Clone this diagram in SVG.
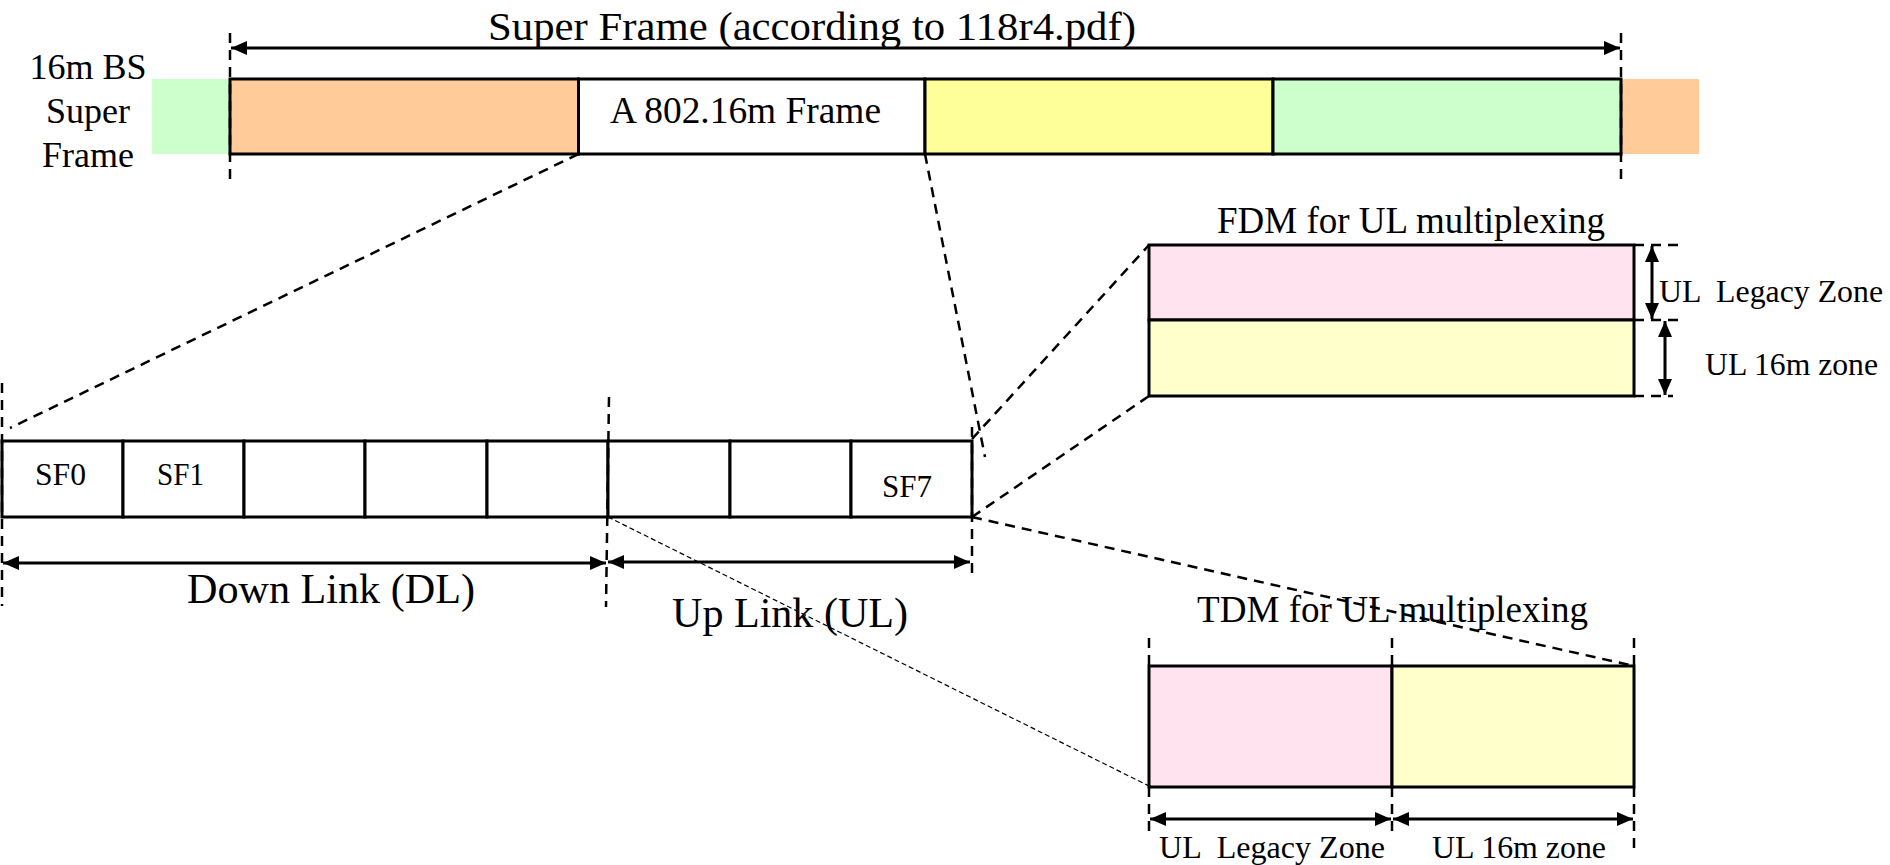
<svg xmlns="http://www.w3.org/2000/svg" width="1890" height="865" viewBox="0 0 1890 865">
<style>
text{font-family:"Liberation Serif","Times New Roman",serif;fill:#000}
.box{stroke:#000;stroke-width:3}
.dash{fill:none;stroke:#000;stroke-width:2.5;stroke-dasharray:10 7}
.thin{fill:none;stroke:#000;stroke-width:1.2;stroke-dasharray:5 3}
.arr{fill:none;stroke:#000;stroke-width:3;marker-start:url(#ah);marker-end:url(#ah)}
</style>
<defs>
<marker id="ah" viewBox="0 0 16 14" refX="16" refY="7" markerWidth="16" markerHeight="14" orient="auto-start-reverse" markerUnits="userSpaceOnUse"><path d="M0,0 L16,7 L0,14 z" fill="#000"/></marker>
</defs>
<rect width="1890" height="865" fill="#fff"/>

<g id="superframe-label">
<text x="88" y="79" font-size="36" text-anchor="middle">16m BS</text>
<text x="88" y="123" font-size="36" text-anchor="middle">Super</text>
<text x="88" y="167" font-size="36" text-anchor="middle">Frame</text>
</g>

<g id="superframe">
<rect x="152" y="79" width="78" height="75" fill="#CCFFCC"/>
<rect x="1621" y="79" width="78" height="75" fill="#FFCC99"/>
<rect class="box" x="230" y="79" width="348.5" height="75" fill="#FFCC99"/>
<rect class="box" x="578.5" y="79" width="346.5" height="75" fill="#FFFFFF"/>
<rect class="box" x="925" y="79" width="348" height="75" fill="#FFFF99"/>
<rect class="box" x="1273" y="79" width="348" height="75" fill="#CCFFCC"/>
<text x="610" y="123" font-size="37" textLength="271" lengthAdjust="spacingAndGlyphs">A 802.16m Frame</text>
</g>

<g id="superframe-title">
<text x="488" y="40" font-size="41" textLength="648" lengthAdjust="spacingAndGlyphs">Super Frame (according to 118r4.pdf)</text>
</g>

<g id="subframes">
<rect class="box" x="2" y="441" width="121" height="76" fill="#fff"/>
<rect class="box" x="123" y="441" width="121" height="76" fill="#fff"/>
<rect class="box" x="244" y="441" width="121" height="76" fill="#fff"/>
<rect class="box" x="365" y="441" width="122" height="76" fill="#fff"/>
<rect class="box" x="487" y="441" width="121" height="76" fill="#fff"/>
<rect class="box" x="608" y="441" width="122" height="76" fill="#fff"/>
<rect class="box" x="730" y="441" width="121" height="76" fill="#fff"/>
<rect class="box" x="851" y="441" width="121" height="76" fill="#fff"/>
<text x="35" y="485" font-size="32" textLength="51" lengthAdjust="spacingAndGlyphs">SF0</text>
<text x="157" y="485" font-size="32" textLength="47" lengthAdjust="spacingAndGlyphs">SF1</text>
<text x="882" y="497" font-size="32" textLength="50" lengthAdjust="spacingAndGlyphs">SF7</text>
</g>

<g id="dl-label">
<text x="187" y="603" font-size="42" textLength="288" lengthAdjust="spacingAndGlyphs">Down Link (DL)</text>
</g>
<g id="ul-label">
<text x="672" y="627" font-size="42" textLength="236" lengthAdjust="spacingAndGlyphs">Up Link (UL)</text>
</g>

<g id="fdm">
<text x="1217" y="233" font-size="37" textLength="388" lengthAdjust="spacingAndGlyphs">FDM for UL multiplexing</text>
<rect class="box" x="1149" y="245" width="485" height="75" fill="#FFE4F0"/>
<rect class="box" x="1149" y="320" width="485" height="76" fill="#FFFFCC"/>
<text x="1659" y="302" font-size="32" textLength="224" lengthAdjust="spacingAndGlyphs" xml:space="preserve">UL  Legacy Zone</text>
<text x="1705" y="375" font-size="32" textLength="173" lengthAdjust="spacingAndGlyphs">UL 16m zone</text>
</g>

<g id="tdm">
<text x="1197" y="622" font-size="37" textLength="391" lengthAdjust="spacingAndGlyphs">TDM for UL multiplexing</text>
<rect class="box" x="1149" y="666" width="243" height="121" fill="#FFE4F0"/>
<rect class="box" x="1392" y="666" width="242" height="121" fill="#FFFFCC"/>
<text x="1159" y="858" font-size="32" textLength="226" lengthAdjust="spacingAndGlyphs" xml:space="preserve">UL  Legacy Zone</text>
<text x="1432" y="858" font-size="32" textLength="174" lengthAdjust="spacingAndGlyphs">UL 16m zone</text>
</g>

<g id="connectors">
<!-- superframe guides -->
<line class="dash" x1="230" y1="33" x2="230" y2="183"/>
<line class="dash" x1="1621" y1="33" x2="1621" y2="183"/>
<line class="arr" x1="231" y1="48" x2="1620" y2="48"/>
<!-- zoom lines from frame -->
<line class="dash" x1="578.5" y1="154" x2="10" y2="428"/>
<line class="dash" x1="925" y1="154" x2="985" y2="457"/>
<!-- subframe guides -->
<line class="dash" x1="2" y1="383" x2="2" y2="606"/>
<line class="dash" x1="609" y1="397" x2="606" y2="607"/>
<line class="dash" x1="972" y1="427" x2="972" y2="578"/>
<line class="arr" x1="3" y1="563" x2="606" y2="563"/>
<line class="arr" x1="608" y1="562" x2="970" y2="562"/>
<!-- FDM zoom -->
<line class="dash" x1="972" y1="439" x2="1149" y2="245"/>
<line class="dash" x1="972" y1="517" x2="1149" y2="396"/>
<line class="dash" x1="1634" y1="245" x2="1678" y2="245"/>
<line class="dash" x1="1634" y1="320" x2="1678" y2="320"/>
<line class="dash" x1="1634" y1="396" x2="1673" y2="396"/>
<line class="arr" x1="1652" y1="246" x2="1652" y2="319"/>
<line class="arr" x1="1665" y1="321" x2="1665" y2="395"/>
<!-- TDM zoom -->
<line class="dash" x1="972" y1="517" x2="1634" y2="666"/>
<line class="thin" x1="608" y1="517" x2="1149" y2="786"/>
<line class="dash" x1="1149" y1="638" x2="1149" y2="666"/>
<line class="dash" x1="1392" y1="638" x2="1392" y2="666"/>
<line class="dash" x1="1634" y1="638" x2="1634" y2="666"/>
<line class="dash" x1="1149" y1="787" x2="1149" y2="835"/>
<line class="dash" x1="1392" y1="787" x2="1392" y2="835"/>
<line class="dash" x1="1634" y1="787" x2="1634" y2="848"/>
<line class="arr" x1="1150" y1="819" x2="1391" y2="819"/>
<line class="arr" x1="1393" y1="819" x2="1633" y2="819"/>
</g>
</svg>
